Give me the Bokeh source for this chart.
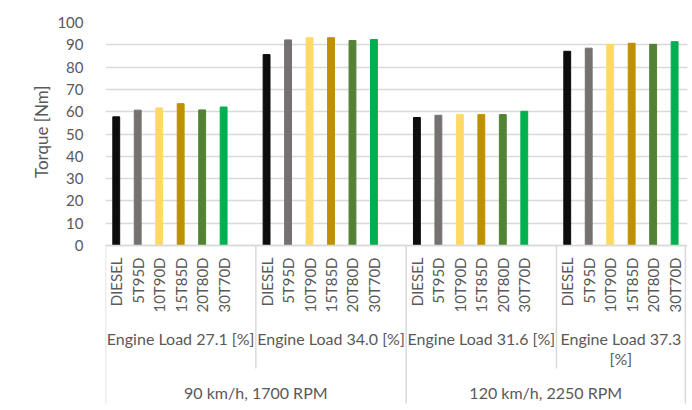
from math import pi
from bokeh.plotting import figure
from bokeh.models import ColumnDataSource, Range1d, FixedTicker, Title
from bokeh.core.properties import value
from bokeh.embed import file_html
from bokeh.resources import INLINE

# ---- data ----
fuels = ["DIESEL", "5T95D", "10T90D", "15T85D", "20T80D", "30T70D"]
fuel_colors = ["#0d0d0d", "#767171", "#FFD966", "#BF9000", "#548235", "#00B050"]
load_labels = ["Engine Load 27.1 [%]", "Engine Load 34.0 [%]",
               "Engine Load 31.6 [%]", "Engine Load 37.3\n[%]"]
speed_labels = ["90 km/h, 1700 RPM", "120 km/h, 2250 RPM"]
torque_load_27_1 = [57.7, 60.7, 61.7, 63.6, 60.8, 62.1]
torque_load_34_0 = [85.6, 92.2, 93.2, 93.2, 91.9, 92.4]
torque_load_31_6 = [57.4, 58.4, 58.7, 58.7, 58.7, 60.2]
torque_load_37_3 = [87.1, 88.5, 90.1, 90.7, 90.2, 91.4]
y_ticks = list(range(0, 101, 10))
y_title = "Torque [Nm]"

groups = [torque_load_27_1, torque_load_34_0, torque_load_31_6, torque_load_37_3]

# ---- layout helpers ----
SLOT = 7            # slots per group (one empty slot between groups)
PX_PER_UNIT = 2.23  # vertical pixels per Nm
def below(px):
    return -px / PX_PER_UNIT

xs, tops, cols, names = [], [], [], []
for g, vals in enumerate(groups):
    for i, v in enumerate(vals):
        xs.append(g * SLOT + i)
        tops.append(v)
        cols.append(fuel_colors[i])
        names.append(fuels[i])
src = ColumnDataSource(dict(x=xs, top=tops, color=cols, name=names))

n_slots = SLOT * (len(groups) - 1) + len(fuels)
x_right = n_slots - 0.5
y_bottom = below(163)

p = figure(width=690, height=408, output_backend="svg", toolbar_location=None,
           x_range=Range1d(-0.5, x_right + 0.1), y_range=Range1d(y_bottom, 100),
           x_axis_location=None, min_border_left=105, min_border_right=3,
           min_border_top=22, min_border_bottom=0)
p.outline_line_color = None
p.xgrid.visible = False
p.ygrid.ticker = FixedTicker(ticks=y_ticks)
p.ygrid.grid_line_color = "#d9d9d9"
p.ygrid.grid_line_width = 1.5

ax = p.yaxis[0]
ax.ticker = FixedTicker(ticks=y_ticks)
ax.axis_line_color = None
ax.major_tick_line_color = None
ax.minor_tick_line_color = None
ax.major_label_standoff = 16
ax.major_label_text_font = "Lato"
ax.major_label_text_font_size = "15px"
ax.major_label_text_color = "#595959"

p.add_layout(Title(text=y_title, align="right", offset=63, vertical_align="middle",
                   text_font="Lato", text_font_size="17px",
                   text_font_style="normal", text_color="#595959",
                   standoff=4), "left")

p.vbar(x="x", top="top", width=0.32, bottom=0, color="color", source=src)

# baseline
p.segment(x0=[-0.5], y0=[0], x1=[x_right], y1=[0], line_color="#d9d9d9", line_width=1.5)

# separators
long_x = [-0.5, SLOT * 2 - 0.5, x_right]
short_x = [SLOT - 0.5, SLOT * 3 - 0.5]
p.segment(x0=long_x, y0=[0] * 3, x1=long_x, y1=[below(158)] * 3,
          line_color="#d9d9d9", line_width=1.5)
p.segment(x0=short_x, y0=[0] * 2, x1=short_x, y1=[below(123)] * 2,
          line_color="#d9d9d9", line_width=1.5)

# category labels
p.text(x="x", y=below(12), text="name", source=src, angle=pi / 2,
       text_align="right", text_baseline="middle",
       text_font=value("Lato"), text_font_size="15px", text_color="#595959")

# load labels
load_x = [g * SLOT + (len(fuels) - 1) / 2 + (0.5 if g < len(groups) - 1 else 0)
          for g in range(len(groups))]
p.text(x=load_x, y=[below(83)] * len(load_x), text=load_labels,
       text_align="center", text_baseline="top", text_line_height=1.1,
       text_font=value("Lato"), text_font_size="16px", text_color="#595959")

# speed labels
speed_x = [(-0.5 + SLOT * 2 - 0.5) / 2, (SLOT * 2 - 0.5 + x_right) / 2]
p.text(x=speed_x, y=[below(147)] * 2, text=speed_labels,
       text_align="center", text_baseline="middle",
       text_font=value("Lato"), text_font_size="16px", text_color="#595959")

open("out.html", "w").write(file_html(p, INLINE))
